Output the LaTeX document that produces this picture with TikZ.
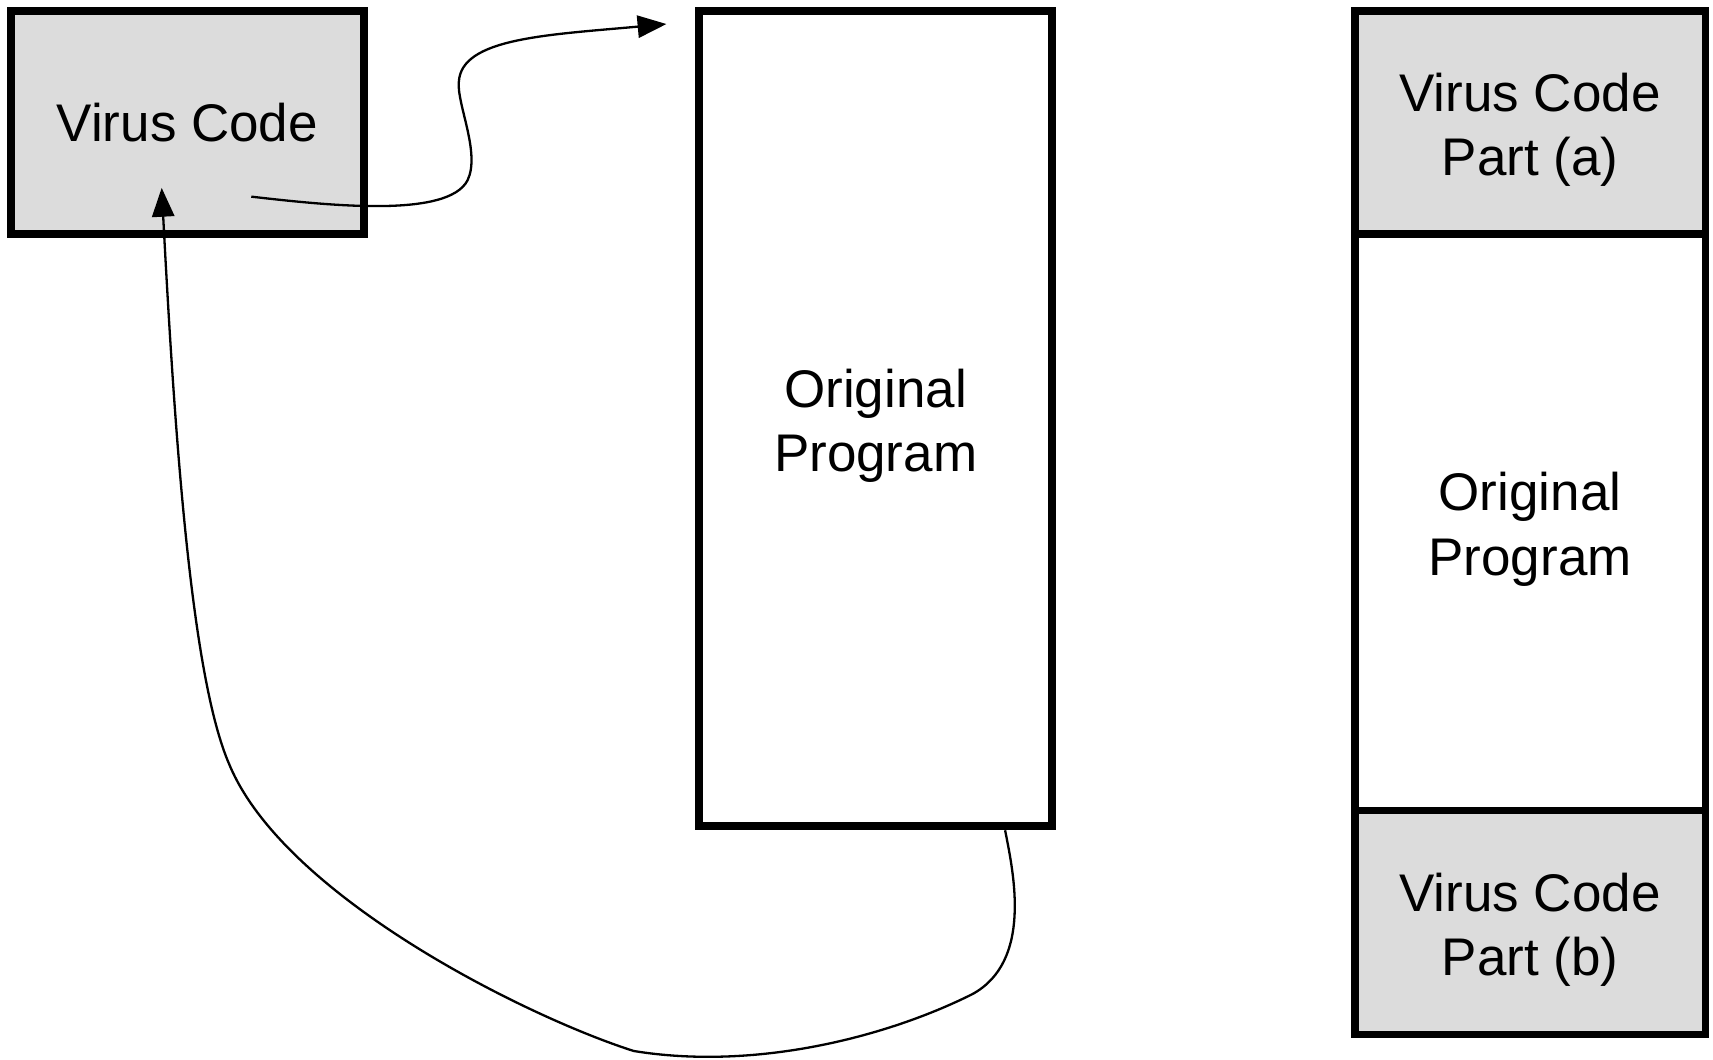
\documentclass[tikz,border=0pt]{standalone}
\usepackage{fontspec}
\setmainfont{Liberation Sans}
\usetikzlibrary{arrows.meta}
\definecolor{boxgray}{HTML}{DCDCDC}
\newcommand{\topstrut}{\rule{0pt}{13.8pt}}
\begin{document}
\begin{tikzpicture}[x=1cm,y=-1cm,
  blk/.style={draw=black,line width=2pt,rectangle,inner sep=0pt,align=center,
    font=\fontsize{13.8}{16.8}\selectfont,minimum width=3.23cm},
  grayblk/.style={blk,fill=boxgray},
  whiteblk/.style={blk,fill=white},
  conn/.style={line width=0.6pt,-{Triangle[length=7.5pt,width=5.8pt]}}]
\useasboundingbox (0,0) rectangle (15.68,9.70);
\node[grayblk,minimum height=2.04cm] (vc) at (1.715,1.12) {Virus Code};
\node[whiteblk,minimum height=7.46cm] (op) at (8.015,3.83) {\topstrut Original\\Program};
\node[whiteblk,minimum width=3.21cm,minimum height=5.28cm] (rm) at (14.005,4.78) {\topstrut Original\\Program};
\node[grayblk,minimum width=3.21cm,minimum height=2.04cm] (ra) at (14.005,1.12) {\topstrut Virus Code\\Part (a)};
\node[grayblk,minimum width=3.21cm,minimum height=2.05cm] (rb) at (14.005,8.445) {\topstrut Virus Code\\Part (b)};
\coordinate (s1) at (2.30,1.80);
\coordinate (e1) at (6.10,0.22);
\coordinate (s2) at (9.20,7.60);
\coordinate (e2) at (1.48,1.72);
\draw[conn] (s1) .. controls (3.00,1.88) and (4.10,2.00) .. (4.28,1.65)
  .. controls (4.40,1.40) and (4.18,0.95) .. (4.20,0.75)
  .. controls (4.22,0.35) and (5.00,0.32) .. (e1);
\draw[conn] (s2) .. controls (9.28,8.00) and (9.45,8.80) .. (8.90,9.10)
  .. controls (8.10,9.50) and (6.90,9.80) .. (5.80,9.62)
  .. controls (4.80,9.30) and (2.60,8.20) .. (2.10,7.00)
  .. controls (1.75,6.20) and (1.60,4.00) .. (e2);
\end{tikzpicture}
\end{document}
